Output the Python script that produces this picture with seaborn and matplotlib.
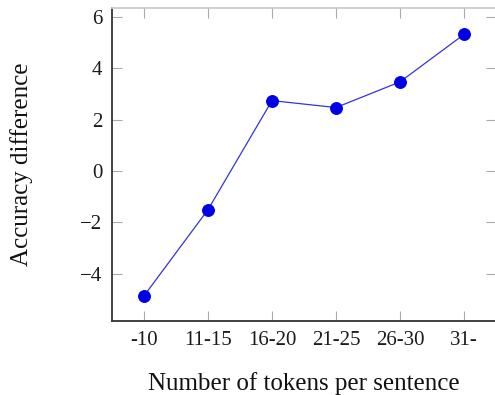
import pandas as pd
import matplotlib
matplotlib.use("Agg")
import matplotlib.pyplot as plt
import seaborn as sns

# 数据
bins = ['-10', '11-15', '16-20', '21-25', '26-30', '31-']
acc_diff = [-4.87, -1.51, 2.74, 2.47, 3.47, 5.32]

df = pd.DataFrame({'pos': range(len(bins)), 'diff': acc_diff})

sns.set_theme(style="ticks")
plt.rcParams['font.family'] = ['Liberation Serif', 'DejaVu Serif']

fig = plt.figure(figsize=(4.95, 3.95), dpi=100)
ax = fig.add_axes([112 / 495, 1 - 321 / 395, 1.0 - 112 / 495 + 0.002, (321 - 8) / 395])

sns.lineplot(
    data=df, x='pos', y='diff',
    color='#3333dd', linewidth=0.9,
    marker='o', markersize=8.5,
    markerfacecolor='#0000e6', markeredgecolor='#0000e6',
    ax=ax
)

ax.set_xlim(-0.5, 5.5)
ax.set_ylim(-5.85, 6.35)
ax.set_xticks(range(len(bins)))
ax.set_xticklabels(bins)
ax.set_yticks([-4, -2, 0, 2, 4, 6])
ax.set_yticklabels(['\u22124', '\u22122', '0', '2', '4', '6'])

ax.tick_params(axis='both', direction='in', length=7, width=0.8, color='#aaaaaa',
               labelsize=15, labelcolor='#1a1a1a', top=True, right=True, pad=7)

for side in ['left', 'bottom']:
    ax.spines[side].set_color('#333333')
    ax.spines[side].set_linewidth(1.3)
ax.spines['top'].set_color('#cccccc')
ax.spines['top'].set_linewidth(1.3)
ax.spines['right'].set_visible(False)

ax.set_xlabel('Number of tokens per sentence', fontsize=18, labelpad=16, color='#111111')
ax.set_ylabel('Accuracy difference', fontsize=18, labelpad=34, color='#111111')

fig.savefig('out.png', dpi=100)
